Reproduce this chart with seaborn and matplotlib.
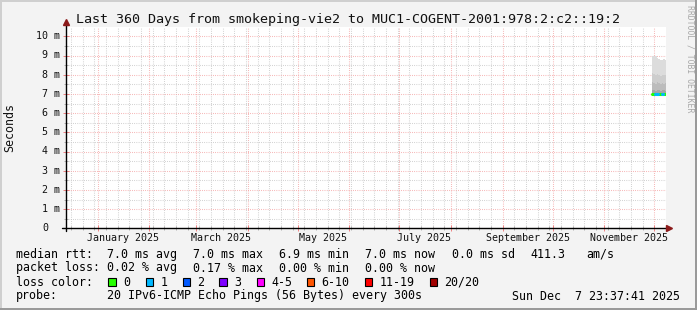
import numpy as np
import pandas as pd
import matplotlib
matplotlib.use("Agg")
import matplotlib.pyplot as plt
import matplotlib.dates as mdates
from matplotlib.patches import Rectangle
import seaborn as sns

# ---------------- data ----------------
title = "Last 360 Days from smokeping-vie2 to MUC1-COGENT-2001:978:2:c2::19:2"
t_end = pd.Timestamp("2025-12-07 23:37:41")
t_start = t_end - pd.Timedelta(days=360)

sample_dates = pd.to_datetime([
    "2025-11-29 10:00", "2025-11-30 10:00", "2025-12-01 10:00", "2025-12-02 10:00",
    "2025-12-03 10:00", "2025-12-04 10:00", "2025-12-05 10:00", "2025-12-06 10:00",
    "2025-12-07 10:00",
])
ping_max = [9.00, 9.00, 8.95, 8.85, 8.80, 8.75, 8.75, 8.80, 8.75]
ping_q90 = [8.10, 8.05, 8.00, 8.05, 8.00, 7.95, 8.00, 8.00, 8.00]
ping_q75 = [7.60, 7.55, 7.50, 7.60, 7.55, 7.50, 7.55, 7.50, 7.55]
ping_q60 = [7.20, 7.20, 7.15, 7.20, 7.20, 7.15, 7.20, 7.20, 7.15]
ping_median = [7.00, 7.00, 7.00, 7.00, 7.00, 7.00, 7.00, 7.00, 7.00]
ping_q25 = [6.95, 6.94, 6.95, 6.95, 6.94, 6.95, 6.95, 6.94, 6.95]
ping_min = [6.88, 6.88, 6.89, 6.88, 6.88, 6.89, 6.88, 6.88, 6.89]
loss_count = ["0", "0", "1", "1", "0", "0", "1", "0", "0"]

loss_labels = ["0", "1", "2", "3", "4-5", "6-10", "11-19", "20/20"]
loss_colors = ["#26ff00", "#00b8ff", "#0059ff", "#7e00ff", "#ff00ff", "#ff5500", "#ff0000", "#a10000"]

ytick_values = [0, 1, 2, 3, 4, 5, 6, 7, 8, 9, 10]
ytick_labels = ["0", "1 m", "2 m", "3 m", "4 m", "5 m", "6 m", "7 m", "8 m", "9 m", "10 m"]
xlabel_dates = pd.to_datetime(["2025-01-16", "2025-03-16", "2025-05-16",
                               "2025-07-16", "2025-09-16", "2025-11-16"])
xlabel_texts = ["January 2025", "March 2025", "May 2025", "July 2025",
                "September 2025", "November 2025"]

median_items = ["median rtt:", "7.0 ms avg", "7.0 ms max", "6.9 ms min",
                "7.0 ms now", "0.0 ms sd", "411.3", "am/s"]
loss_items = ["packet loss:", "0.02 % avg", "0.17 % max", "0.00 % min", "0.00 % now"]
probe_text = "20 IPv6-ICMP Echo Pings (56 Bytes) every 300s"
stamp_text = "Sun Dec  7 23:37:41 2025"

# ---------------- style ----------------
sns.set_theme(style="white")
plt.rcParams["font.family"] = ["DejaVu Sans Mono", "DejaVu Sans"]

W, H = 697, 310
BG = "#f3f3f3"
fig = plt.figure(figsize=(W / 100, H / 100), dpi=100, facecolor=BG)


def fx(px):
    return px / W


def fy(py):
    return 1 - py / H


ax = fig.add_axes([fx(66), fy(228.3), 600 / W, 201.6 / H])
ax.set_facecolor("white")

# smoke
x_step = list(sample_dates) + [t_end]
def ext(a):
    return list(a) + [a[-1]]

bands = [
    (ping_q90, ping_max, "#dcdcdc"),
    (ping_q75, ping_q90, "#cdcdcd"),
    (ping_q60, ping_q75, "#bcbcbc"),
    (ping_median, ping_q60, "#a6a6a6"),
    (ping_q25, ping_median, "#8c8c8c"),
    (ping_min, ping_q25, "#6a6a6a"),
]
xs = np.array(x_step, dtype="datetime64[ns]")
for lo, hi, c in bands:
    ax.fill_between(xs, ext(lo), ext(hi), step="post", color=c, lw=0, zorder=2)

# median line coloured by loss
rows = []
for i, d in enumerate(sample_dates):
    nxt = x_step[i + 1]
    rows.append({"t": d, "rtt": ping_median[i], "seg": i, "loss": loss_count[i]})
    rows.append({"t": nxt, "rtt": ping_median[i], "seg": i, "loss": loss_count[i]})
seg_df = pd.DataFrame(rows)
sns.lineplot(data=seg_df, x="t", y="rtt", hue="loss", units="seg", estimator=None,
             palette=dict(zip(loss_labels, loss_colors)), lw=2.2, legend=False,
             ax=ax, zorder=3)

ax.set_xlim(t_start, t_end)
ax.set_ylim(0, 10.5)
ax.set_xlabel("")
ax.set_ylabel("")

# grid
ax.xaxis.set_major_locator(mdates.MonthLocator())
ax.xaxis.set_minor_locator(mdates.WeekdayLocator(byweekday=mdates.MO))
ax.set_yticks(ytick_values)
ax.set_yticks(np.arange(0.5, 10.5, 1.0), minor=True)
ax.set_xticklabels([])
ax.set_yticklabels([])
ax.grid(which="minor", color="#c4c4c4", ls=(0, (0.7, 1.4)), lw=0.75, zorder=1)
ax.grid(which="major", color="#f4a0a0", ls=(0, (0.7, 1.4)), lw=0.75, zorder=1)
ax.tick_params(which="major", direction="inout", length=4, width=0.7, color="#f08080",
               bottom=True, left=True, labelbottom=False, labelleft=False)
ax.tick_params(which="minor", direction="inout", length=3, width=0.7, color="#b0b0b0",
               bottom=True, left=True)
for s in ax.spines.values():
    s.set_visible(False)

# axes lines with arrows
ax.plot([-0.007, 1.003], [0, 0], transform=ax.transAxes, color="black", lw=1,
        clip_on=False, zorder=5)
ax.plot([0, 0], [-0.015, 1.02], transform=ax.transAxes, color="black", lw=1,
        clip_on=False, zorder=5)
ax.plot([1.005], [0], transform=ax.transAxes, marker=">", ms=5, color="#8b1a1a",
        clip_on=False, zorder=6)
ax.plot([0], [1.025], transform=ax.transAxes, marker="^", ms=5, color="#8b1a1a",
        clip_on=False, zorder=6)

# y tick labels
ytrans = matplotlib.transforms.blended_transform_factory(fig.transFigure, ax.transData)
for v, lab in zip(ytick_values, ytick_labels):
    xr = fx(60) if lab != "0" else fx(48)
    fig.text(xr, v, lab, transform=ytrans, ha="right", va="center",
             fontsize=7.2, color="#111111")

# x labels
xtrans = matplotlib.transforms.blended_transform_factory(ax.transData, fig.transFigure)
for d, lab in zip(xlabel_dates, xlabel_texts):
    ax.text(mdates.date2num(d), fy(238), lab, transform=xtrans, ha="center", va="center",
            fontsize=7.2, color="#111111")

# title and labels
fig.text(fx(76), fy(19.3), title, ha="left", va="center", fontsize=9.6, color="#111111")
fig.text(fx(10), fy(127), "Seconds", rotation=90, ha="center", va="center",
         fontsize=8.4, color="#111111")
fig.text(fx(690), fy(5), "RRDTOOL / TOBI OETIKER", rotation=270, ha="center", va="top",
         fontsize=5.9, color="#a8a8a8")

# legend rows
med_x = [16, 107, 193, 279, 365, 452, 530, 586]
for x, t in zip(med_x, median_items):
    fig.text(fx(x), fy(254.3), t, ha="left", va="center", fontsize=8.4, color="black")
for x, t in zip(med_x, loss_items):
    fig.text(fx(x), fy(268), t, ha="left", va="center", fontsize=8.4, color="black")
fig.text(fx(16), fy(282), "loss color:", ha="left", va="center", fontsize=8.4, color="black")
box_x = [108.3, 146, 183, 219.3, 257, 307, 365, 430]
for bx, lab, col in zip(box_x, loss_labels, loss_colors):
    fig.patches.append(Rectangle((fx(bx), fy(286.3)), 7.3 / W, 8 / H,
                                 transform=fig.transFigure, facecolor=col,
                                 edgecolor="black", lw=0.8))
    fig.text(fx(bx + 14.5), fy(282), lab, ha="left", va="center", fontsize=8.4, color="black")
fig.text(fx(16), fy(296), "probe:", ha="left", va="center", fontsize=8.4, color="black")
fig.text(fx(107.3), fy(296), probe_text, ha="left", va="center", fontsize=8.4, color="black")
fig.text(fx(680), fy(296), stamp_text, ha="right", va="center", fontsize=8.4, color="black")

# frame
fig.patches.append(Rectangle((0, 0), 2 / W, 1, transform=fig.transFigure, color="#cfcfcf", lw=0))
fig.patches.append(Rectangle((0, 1 - 2 / H), 1, 2 / H, transform=fig.transFigure, color="#cfcfcf", lw=0))
fig.patches.append(Rectangle((1 - 2 / W, 0), 2 / W, 1, transform=fig.transFigure, color="#9a9a9a", lw=0))
fig.patches.append(Rectangle((0, 0), 1, 2 / H, transform=fig.transFigure, color="#9a9a9a", lw=0))

fig.savefig("out.png", dpi=100, facecolor=BG)
